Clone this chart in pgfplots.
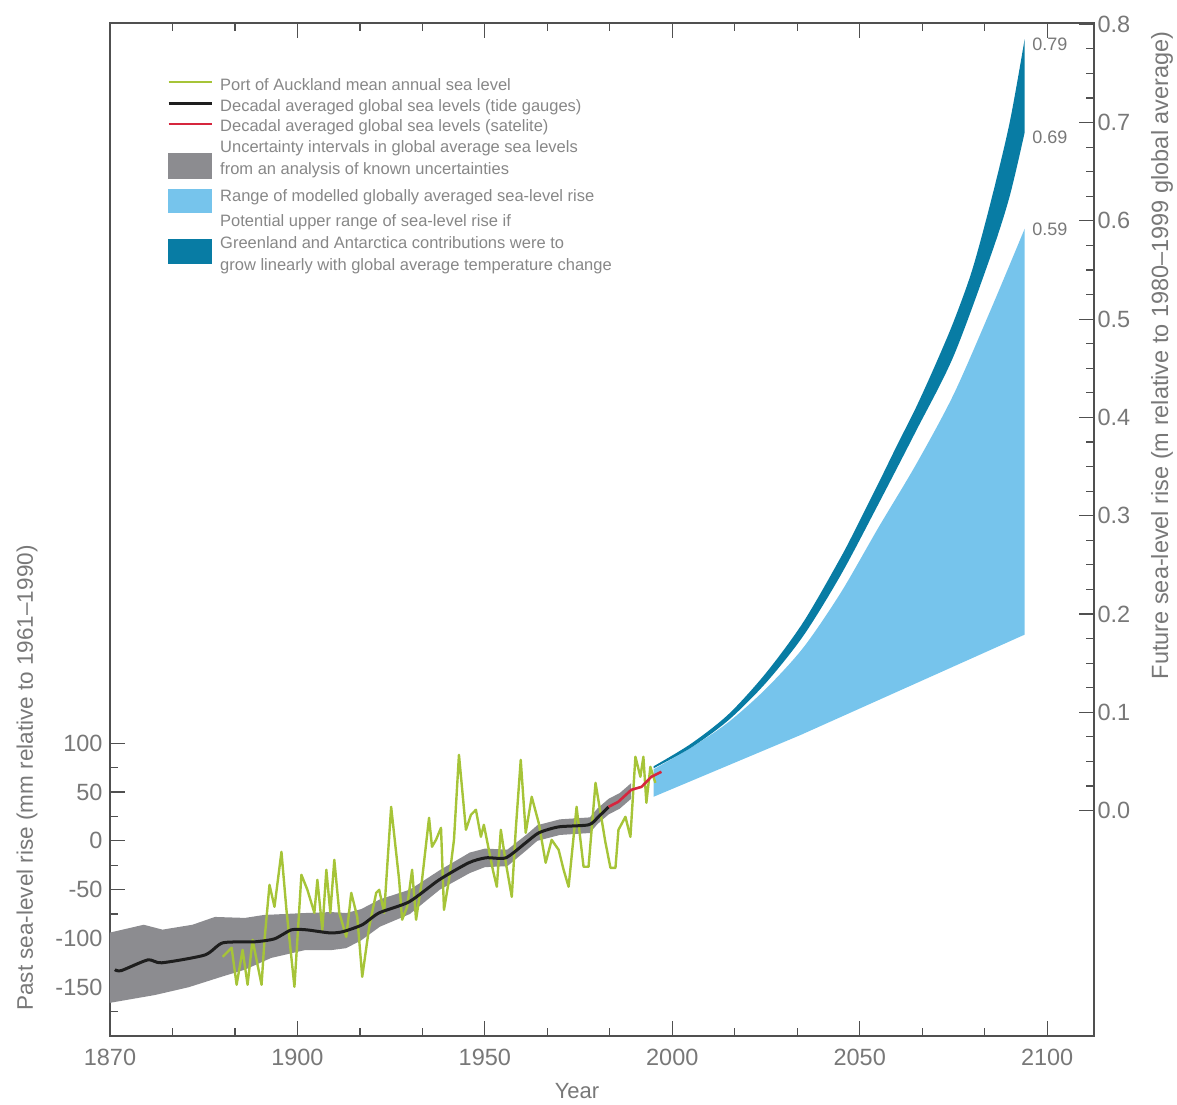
\documentclass[border=0pt]{standalone}
\usepackage{fontspec}
\setmainfont{Liberation Sans}
\usepackage{pgfplots}
\pgfplotsset{compat=1.18}
\usepgfplotslibrary{fillbetween}

\definecolor{auck}{RGB}{166,196,56}
\definecolor{tide}{RGB}{30,30,30}
\definecolor{sat}{RGB}{214,38,62}
\definecolor{unc}{RGB}{140,140,144}
\definecolor{lblue}{RGB}{118,196,236}
\definecolor{dblue}{RGB}{8,124,164}
\definecolor{axgray}{RGB}{80,80,80}
\definecolor{labgray}{RGB}{120,120,120}
\definecolor{leggray}{RGB}{135,135,135}

\newcommand\tickfont{\fontsize{23.5}{28}\selectfont}
\newcommand\legfont{\fontsize{16.5}{22}\selectfont}
\newcommand\valfont{\fontsize{18}{22}\selectfont}

\pgfplotsset{
  common/.style={
    at={(0,0)}, anchor=south west,
    scale only axis, width=984pt, height=1013pt,
    xmin=1850, xmax=2112.5,
    tick align=inside,
    major tick length=15pt, minor tick length=8pt,
    every tick/.style={axgray, line width=1.2pt},
    every minor tick/.style={axgray, line width=1.2pt},
    axis line style={axgray, line width=1.3pt},
    /pgf/number format/assume math mode=true,
    ticklabel style={font=\tickfont, text=labgray},
    label style={text=labgray},
  }
}

\begin{document}
\begin{tikzpicture}

% past: mm relative to 1961-1990
\begin{axis}[common,
  ymin=-200, ymax=838,
  xtick pos=both, ytick pos=left,
  xtick={1850,1900,1950,2000,2050,2100},
  xticklabels={1870,1900,1950,2000,2050,2100},
  minor xtick={1866.667,1883.333,1916.667,1933.333,1966.667,1983.333,2016.667,2033.333,2066.667,2083.333},
  ytick={-150,-100,-50,0,50,100},
  minor ytick={-175,-125,-75,-25,25,75},
  xticklabel style={yshift=-10pt},
  yticklabel style={xshift=-4pt},
  xlabel={Year},
  xlabel style={font=\fontsize{22}{26}\selectfont, at={([yshift=-62pt]axis description cs:0.4746,0)}, anchor=base},
  ylabel={Past sea-level rise (mm relative to 1961--1990)},
  ylabel style={font=\fontsize{22.5}{26}\selectfont, at={([xshift=-77pt]axis description cs:0,0.2547)}, anchor=base},
  legend style={at={(axis description cs:0.0579,0.951)}, anchor=north west,
    draw=none, fill=none, inner sep=0pt, row sep=0pt, column sep=5pt,
    font=\legfont, text=leggray, cells={anchor=west, align=left, inner sep=0pt}},
]
% uncertainty band: upper edge, then lower edge backwards
\addplot[fill=unc, draw=none, forget plot] coordinates {
  (1850,-94) (1859,-86) (1864,-91) (1872,-86) (1878,-78) (1886,-79) (1891,-76)
  (1902,-74) (1909,-73) (1913,-74) (1917,-70) (1922,-60) (1930,-50) (1938,-30)
  (1946,-12) (1950,-8) (1956,-9) (1961,6) (1964,16) (1970,22) (1978,24)
  (1980,33) (1983,43) (1986,49) (1989,59)
  (1989,43) (1986,33) (1983,27) (1980,17) (1978,8) (1970,6) (1964,0) (1961,-10)
  (1956,-26) (1950,-27) (1946,-33) (1938,-50) (1930,-75) (1922,-88) (1917,-102)
  (1913,-110) (1909,-112) (1902,-112) (1893,-120) (1886,-132) (1880,-139)
  (1871,-150) (1862,-158) (1850,-166)
};

% Port of Auckland annual mean
\addplot[auck, line width=2.4pt, line join=round, forget plot] coordinates {
  (1880.05,-118.9) (1882.45,-109.6) (1883.78,-147.5) (1885.37,-111.7) (1886.70,-147.5)
  (1888.03,-101.4) (1890.43,-147.5) (1891.22,-101.4) (1892.55,-45.1) (1893.88,-67.6)
  (1895.74,-11.3) (1897.07,-70.7) (1899.20,-149.6) (1901.06,-34.8) (1902.66,-50.2)
  (1904.52,-73.8) (1905.32,-40.0) (1906.65,-91.2) (1907.71,-29.7) (1908.78,-73.8)
  (1909.84,-19.5) (1911.17,-73.8) (1913.03,-98.4) (1914.36,-53.3) (1915.96,-77.9)
  (1917.29,-139.3) (1919.15,-88.1) (1921.01,-53.3) (1921.81,-50.2) (1923.14,-73.8)
  (1925.00,34.8) (1927.13,-40.0) (1927.93,-80.9) (1929.26,-67.6) (1930.59,-29.7)
  (1931.65,-80.9) (1933.24,-40.0) (1935.11,23.6) (1935.90,-6.1) (1936.97,1.0)
  (1938.30,13.3) (1939.10,-70.7) (1940.43,-40.0) (1941.76,1.0) (1943.09,88.1)
  (1944.95,11.3) (1946.28,26.6) (1947.61,31.8) (1948.94,4.1) (1949.73,16.4)
  (1951.06,-9.2) (1952.13,-29.7) (1953.19,-47.1) (1954.26,11.3) (1955.59,-22.5)
  (1957.18,-57.4) (1958.24,11.3) (1959.57,83.0) (1960.90,8.2) (1962.50,45.1)
  (1964.36,18.4) (1966.22,-22.5) (1967.82,1.0) (1969.68,-9.2) (1971.01,-29.7)
  (1972.34,-47.1) (1974.47,34.8) (1976.33,-26.6) (1977.66,-26.6) (1979.52,59.4)
  (1980.85,28.7) (1982.18,-2.0) (1983.51,-27.7) (1984.84,-27.7) (1985.64,11.3)
  (1987.50,24.6) (1988.83,4.1) (1990.16,86.1) (1991.49,65.6) (1992.29,86.1)
  (1993.09,38.9) (1994.15,75.8) (1995.48,59.4)
};

% decadal global mean, tide gauges
\addplot[tide, line width=3pt, smooth, tension=0.4, forget plot] coordinates {
  (1851.3,-132) (1853,-133) (1860.1,-122) (1863.8,-125) (1875.3,-117)
  (1880.1,-104.5) (1888.6,-103.5) (1893.9,-100.4) (1898.4,-91.2) (1902.4,-91.2)
  (1908.5,-94.3) (1912,-93.2) (1917.3,-86) (1921.8,-73.8) (1929.8,-62.5)
  (1937.8,-40) (1945.7,-22.5) (1950.3,-17.4) (1955.6,-17.4) (1960.9,-2)
  (1964.4,8.2) (1969.7,14.3) (1977.7,16.4) (1980.3,24.6) (1983,34.8)
};
% decadal global mean, satellite
\addplot[sat, line width=2.6pt, forget plot] coordinates {
  (1983,34.8) (1985.6,40) (1989.1,52.3) (1991.8,55.3) (1994.4,65.6) (1997.1,70.7)
};

\addlegendimage{legend image code/.code={\draw[auck, line width=2.4pt] (0pt,1pt) -- (43pt,1pt);}}
\addlegendentry{\strut Port of Auckland mean annual sea level}
\addlegendimage{legend image code/.code={\draw[tide, line width=3pt] (0pt,1pt) -- (43pt,1pt);}}
\addlegendentry{\strut Decadal averaged global sea levels (tide gauges)}
\addlegendimage{legend image code/.code={\draw[sat, line width=2.6pt] (0pt,1pt) -- (43pt,1pt);}}
\addlegendentry{\strut Decadal averaged global sea levels (satelite)}
\addlegendimage{legend image code/.code={\path (0pt,0pt) -- (43pt,0pt); \fill[unc, overlay] (0pt,-21pt) rectangle (43pt,4pt);}}
\addlegendentry{\strut Uncertainty intervals in global average sea levels\\\strut from an analysis of known uncertainties}
\addlegendimage{legend image code/.code={\path (0pt,0pt) -- (43pt,0pt); \fill[lblue, overlay] (0pt,-20.6pt) rectangle (43pt,2.4pt);}}
\addlegendentry{\rule{0pt}{21pt}\strut Range of modelled globally averaged sea-level rise}
\addlegendimage{legend image code/.code={\path (0pt,0pt) -- (43pt,0pt); \fill[dblue, overlay] (0pt,-23.8pt) rectangle (43pt,0.2pt);}}
\addlegendentry{\rule{0pt}{19.4pt}\strut Potential upper range of sea-level rise if\\\strut Greenland and Antarctica contributions were to\\\strut grow linearly with global average temperature change}
\end{axis}

% future: m relative to 1980-1999
\begin{axis}[common,
  ymin=-0.2294, ymax=0.8013,
  hide x axis,
  axis y line*=right,
  ytick={0,0.1,0.2,0.3,0.4,0.5,0.6,0.7,0.8},
  minor ytick={0.025,0.05,0.075,0.125,0.15,0.175,0.225,0.25,0.275,0.325,0.35,0.375,0.425,0.45,0.475,0.525,0.55,0.575,0.625,0.65,0.675,0.725,0.75,0.775},
  yticklabel style={/pgf/number format/.cd, fixed, fixed zerofill, precision=1},
  ylabel={Future sea-level rise (m relative to 1980--1999 global average)},
  ylabel style={font=\fontsize{23.5}{27}\selectfont, at={([xshift=74pt]axis description cs:1,0.672)}, anchor=base},
]
% modelled range
\addplot[draw=none, smooth, name path=lu] coordinates {
  (1995,0.042) (2005,0.064) (2015,0.090) (2025,0.124) (2035,0.166) (2045,0.222)
  (2055,0.288) (2065,0.352) (2075,0.423) (2085,0.510) (2094,0.592)
};
\addplot[draw=none, name path=ll] coordinates {
  (1995,0.014) (2034.3,0.077) (2094,0.179)
};
\addplot[lblue] fill between[of=lu and ll];
% potential upper range
\addplot[draw=none, smooth, name path=du] coordinates {
  (1995,0.045) (2005,0.068) (2015,0.098) (2025,0.140) (2035,0.192) (2045,0.258)
  (2050,0.295) (2055,0.333) (2060,0.372) (2065,0.410) (2070,0.452) (2075,0.497)
  (2080,0.550) (2085,0.620) (2090,0.700) (2094,0.785)
};
\addplot[draw=none, smooth, name path=dl] coordinates {
  (1995,0.043) (2005,0.064) (2015,0.092) (2025,0.130) (2035,0.178) (2045,0.240)
  (2055,0.312) (2065,0.386) (2075,0.462) (2085,0.565) (2090,0.625) (2094,0.690)
};
\addplot[dblue] fill between[of=du and dl];

\node[anchor=west, font=\valfont, text=labgray, inner sep=0pt] at (axis cs:2096,0.78) {0.79};
\node[anchor=west, font=\valfont, text=labgray, inner sep=0pt] at (axis cs:2096,0.685) {0.69};
\node[anchor=west, font=\valfont, text=labgray, inner sep=0pt] at (axis cs:2096,0.591) {0.59};
\end{axis}
\pgfresetboundingbox
\path[use as bounding box] (-110pt,-68pt) rectangle (1067pt,1036pt);
\end{tikzpicture}
\end{document}
